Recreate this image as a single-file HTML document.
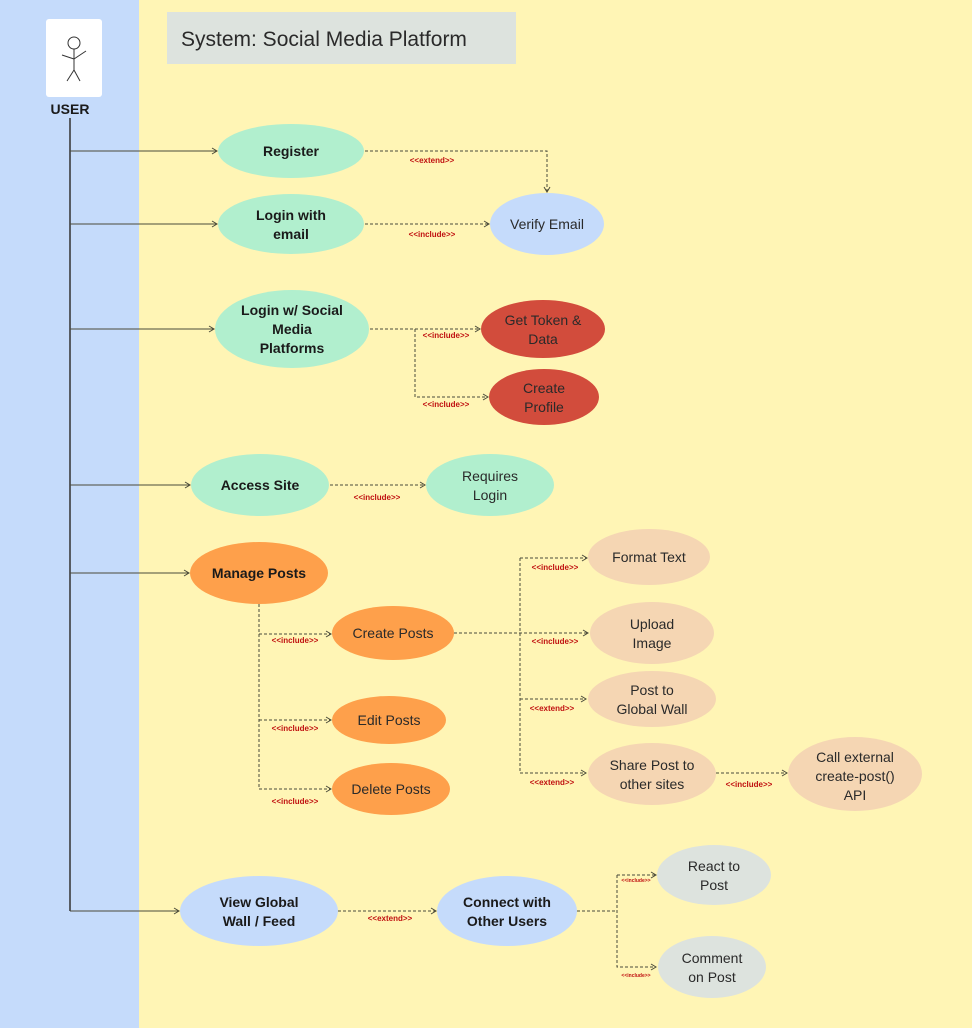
<!DOCTYPE html>
<html><head><meta charset="utf-8"><style>
html,body{margin:0;padding:0;width:972px;height:1028px;overflow:hidden;background:#fff5b5}
svg{display:block}
text{font-family:"Liberation Sans","DejaVu Sans",sans-serif}
.n{font-size:14px;fill:#2a2a2a;text-anchor:middle}
.b{font-weight:bold;fill:#1a1a1a}
.l{font-size:8px;fill:#c01010;font-weight:bold;text-anchor:middle}
.s{font-size:5px;fill:#c01010;font-weight:bold;text-anchor:middle}
.d{stroke:#4a4a3a;stroke-width:1;stroke-dasharray:3,2;fill:none}
.a{stroke:#4a4a3a;stroke-width:1;fill:none}
</style></head><body>
<svg width="972" height="1028" viewBox="0 0 972 1028" xmlns="http://www.w3.org/2000/svg">
<defs>
<marker id="ar" markerWidth="8" markerHeight="8" refX="6" refY="4" orient="auto" markerUnits="userSpaceOnUse">
<path d="M1,1 L6,4 L1,7" fill="none" stroke="#4a4a3a" stroke-width="1"/></marker>
</defs>
<rect x="0" y="0" width="139" height="1028" fill="#c5dbfb"/>
<rect x="139" y="0" width="833" height="1028" fill="#fff5b5"/>
<rect x="167" y="12" width="349" height="52" fill="#dde3de"/>
<text x="181" y="46" style="font-size:21px;fill:#2a2a2a">System: Social Media Platform</text>
<rect x="46" y="19" width="56" height="78" rx="3" fill="#fff"/>
<g stroke="#333" stroke-width="1" fill="none">
<circle cx="74" cy="43" r="6"/><line x1="74" y1="49" x2="74" y2="70"/>
<line x1="62" y1="55" x2="74" y2="59"/><line x1="86" y1="51" x2="74" y2="59"/>
<line x1="74" y1="70" x2="67" y2="81"/><line x1="74" y1="70" x2="80" y2="81"/></g>
<text x="70" y="114" style="font-size:14px;font-weight:bold;text-anchor:middle;fill:#1a1a1a">USER</text>
<line x1="70" y1="118" x2="70" y2="911" stroke="#333" stroke-width="1.5"/>
<g class="a">
<line x1="70" y1="151" x2="217" y2="151" marker-end="url(#ar)"/>
<line x1="70" y1="224" x2="217" y2="224" marker-end="url(#ar)"/>
<line x1="70" y1="329" x2="214" y2="329" marker-end="url(#ar)"/>
<line x1="70" y1="485" x2="190" y2="485" marker-end="url(#ar)"/>
<line x1="70" y1="573" x2="189" y2="573" marker-end="url(#ar)"/>
<line x1="70" y1="911" x2="179" y2="911" marker-end="url(#ar)"/>
</g>
<g class="d">
<path d="M365,151 H547 V192" marker-end="url(#ar)"/>
<path d="M365,224 H489" marker-end="url(#ar)"/>
<path d="M370,329 H480" marker-end="url(#ar)"/>
<path d="M415,329 V397 H488" marker-end="url(#ar)"/>
<path d="M330,485 H425" marker-end="url(#ar)"/>
<path d="M259,604 V789 H331" marker-end="url(#ar)"/>
<path d="M259,634 H331" marker-end="url(#ar)"/>
<path d="M259,720 H331" marker-end="url(#ar)"/>
<path d="M454,633 H588" marker-end="url(#ar)"/>
<path d="M520,558 H587" marker-end="url(#ar)"/>
<path d="M520,558 V773 H586" marker-end="url(#ar)"/>
<path d="M520,699 H586" marker-end="url(#ar)"/>
<path d="M716,773 H787" marker-end="url(#ar)"/>
<path d="M338,911 H436" marker-end="url(#ar)"/>
<path d="M577,911 H617" />
<path d="M617,875 V967 H656" marker-end="url(#ar)"/>
<path d="M617,875 H656" marker-end="url(#ar)"/>
</g>
<text class="l" x="432" y="163">&lt;&lt;extend&gt;&gt;</text>
<text class="l" x="432" y="237">&lt;&lt;include&gt;&gt;</text>
<text class="l" x="446" y="338">&lt;&lt;include&gt;&gt;</text>
<text class="l" x="446" y="407">&lt;&lt;include&gt;&gt;</text>
<text class="l" x="377" y="500">&lt;&lt;include&gt;&gt;</text>
<text class="l" x="295" y="643">&lt;&lt;include&gt;&gt;</text>
<text class="l" x="295" y="731">&lt;&lt;include&gt;&gt;</text>
<text class="l" x="295" y="804">&lt;&lt;include&gt;&gt;</text>
<text class="l" x="555" y="570">&lt;&lt;include&gt;&gt;</text>
<text class="l" x="555" y="644">&lt;&lt;include&gt;&gt;</text>
<text class="l" x="552" y="711">&lt;&lt;extend&gt;&gt;</text>
<text class="l" x="552" y="785">&lt;&lt;extend&gt;&gt;</text>
<text class="l" x="749" y="787">&lt;&lt;include&gt;&gt;</text>
<text class="l" x="390" y="921">&lt;&lt;extend&gt;&gt;</text>
<text class="s" x="636" y="882">&lt;&lt;include&gt;&gt;</text>
<text class="s" x="636" y="977">&lt;&lt;include&gt;&gt;</text>
<g>
<ellipse cx="291" cy="151" rx="73" ry="27" fill="#b1efce"/>
<ellipse cx="291" cy="224" rx="73" ry="30" fill="#b1efce"/>
<ellipse cx="547" cy="224" rx="57" ry="31" fill="#c5dbfb"/>
<ellipse cx="292" cy="329" rx="77" ry="39" fill="#b1efce"/>
<ellipse cx="543" cy="329" rx="62" ry="29" fill="#d24c3c"/>
<ellipse cx="544" cy="397" rx="55" ry="28" fill="#d24c3c"/>
<ellipse cx="260" cy="485" rx="69" ry="31" fill="#b1efce"/>
<ellipse cx="490" cy="485" rx="64" ry="31" fill="#b1efce"/>
<ellipse cx="259" cy="573" rx="69" ry="31" fill="#fea04b"/>
<ellipse cx="393" cy="633" rx="61" ry="27" fill="#fea04b"/>
<ellipse cx="389" cy="720" rx="57" ry="24" fill="#fea04b"/>
<ellipse cx="391" cy="789" rx="59" ry="26" fill="#fea04b"/>
<ellipse cx="649" cy="557" rx="61" ry="28" fill="#f5d6b3"/>
<ellipse cx="652" cy="633" rx="62" ry="31" fill="#f5d6b3"/>
<ellipse cx="652" cy="699" rx="64" ry="28" fill="#f5d6b3"/>
<ellipse cx="652" cy="774" rx="64" ry="31" fill="#f5d6b3"/>
<ellipse cx="855" cy="774" rx="67" ry="37" fill="#f5d6b3"/>
<ellipse cx="259" cy="911" rx="79" ry="35" fill="#c5dbfb"/>
<ellipse cx="507" cy="911" rx="70" ry="35" fill="#c5dbfb"/>
<ellipse cx="714" cy="875" rx="57" ry="30" fill="#dde3de"/>
<ellipse cx="712" cy="967" rx="54" ry="31" fill="#dde3de"/>
</g>
<text class="n b" x="291" y="156">Register</text>
<text class="n b" x="291" y="220">Login with</text><text class="n b" x="291" y="239">email</text>
<text class="n" x="547" y="229">Verify Email</text>
<text class="n b" x="292" y="315">Login w/ Social</text><text class="n b" x="292" y="334">Media</text><text class="n b" x="292" y="353">Platforms</text>
<text class="n" x="543" y="325">Get Token &amp;</text><text class="n" x="543" y="344">Data</text>
<text class="n" x="544" y="393">Create</text><text class="n" x="544" y="412">Profile</text>
<text class="n b" x="260" y="490">Access Site</text>
<text class="n" x="490" y="481">Requires</text><text class="n" x="490" y="500">Login</text>
<text class="n b" x="259" y="578">Manage Posts</text>
<text class="n" x="393" y="638">Create Posts</text>
<text class="n" x="389" y="725">Edit Posts</text>
<text class="n" x="391" y="794">Delete Posts</text>
<text class="n" x="649" y="562">Format Text</text>
<text class="n" x="652" y="629">Upload</text><text class="n" x="652" y="648">Image</text>
<text class="n" x="652" y="695">Post to</text><text class="n" x="652" y="714">Global Wall</text>
<text class="n" x="652" y="770">Share Post to</text><text class="n" x="652" y="789">other sites</text>
<text class="n" x="855" y="762">Call external</text><text class="n" x="855" y="781">create-post()</text><text class="n" x="855" y="800">API</text>
<text class="n b" x="259" y="907">View Global</text><text class="n b" x="259" y="926">Wall / Feed</text>
<text class="n b" x="507" y="907">Connect with</text><text class="n b" x="507" y="926">Other Users</text>
<text class="n" x="714" y="871">React to</text><text class="n" x="714" y="890">Post</text>
<text class="n" x="712" y="963">Comment</text><text class="n" x="712" y="982">on Post</text>
</svg>
</body></html>
